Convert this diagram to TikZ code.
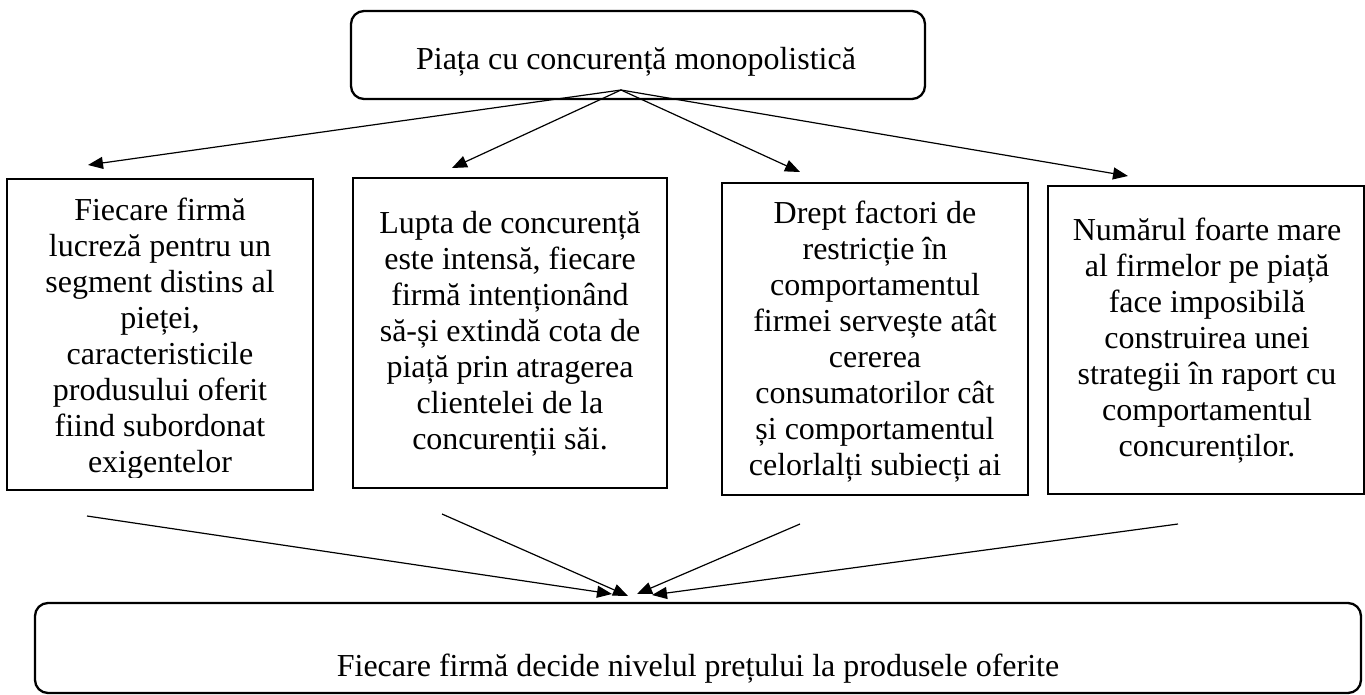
\documentclass[tikz,border=0pt]{standalone}
\usepackage{fontspec}
\setmainfont{Liberation Serif}
\usetikzlibrary{arrows.meta}
\begin{document}
\begin{tikzpicture}[x=1pt,y=-1pt,
  frame/.style={draw, line width=2.3pt, inner sep=0pt, outer sep=0pt, anchor=north west},
  rframe/.style={frame, rounded corners=13pt},
  txt/.style={font=\fontsize{32}{36}\selectfont, align=center, inner sep=0pt},
  conn/.style={line width=1.2pt, -{Triangle[length=15pt,width=12pt]}}]
\useasboundingbox (0,0) rectangle (1365,695);
% top box
\node[rframe, minimum width=574pt, minimum height=88pt] (top) at (351,11) {};
\node[txt, anchor=base] (toptxt) at (636,70) {Piața cu concurență monopolistică};
% four boxes
\node[frame, minimum width=306pt, minimum height=311pt] (b1) at (7,179) {};
\node[frame, minimum width=314pt, minimum height=310pt] (b2) at (353,178) {};
\node[frame, minimum width=306pt, minimum height=312pt] (b3) at (722,183) {};
\node[frame, minimum width=316pt, minimum height=308pt] (b4) at (1048,186) {};
\begin{scope}
\clip (7,179) rectangle (313,477);
\node[txt] (b1t) at (160,338.5) {Fiecare firmă\\lucreză pentru un\\segment distins al\\pieței,\\caracteristicile\\produsului oferit\\fiind subordonat\\exigentelor};
\end{scope}
\node[txt] (b2t) at (510,333.5) {Lupta de concurență\\este intensă, fiecare\\firmă intenționând\\să-și extindă cota de\\piață prin atragerea\\clientelei de la\\concurenții săi.};
\node[txt] (b3t) at (875,341.5) {Drept factori de\\restricție în\\comportamentul\\firmei servește atât\\cererea\\consumatorilor cât\\și comportamentul\\celorlalți subiecți ai};
\node[txt] (b4t) at (1207,340.5) {Numărul foarte mare\\al firmelor pe piață\\face imposibilă\\construirea unei\\strategii în raport cu\\comportamentul\\concurenților.};
% bottom box
\node[rframe, minimum width=1326pt, minimum height=90pt] (bot) at (35,603) {};
\node[txt, anchor=base] (bottxt) at (698,676) {Fiecare firmă decide nivelul prețului la produsele oferite};
% top connectors
\coordinate (src) at (621,90);
\coordinate (t1) at (88,165);
\coordinate (t2) at (452,168);
\coordinate (t3) at (800,172);
\coordinate (t4) at (1128,176);
\draw[conn] (src) -- (t1);
\draw[conn] (src) -- (t2);
\draw[conn] (src) -- (t3);
\draw[conn] (src) -- (t4);
% bottom connectors
\coordinate (s1) at (87,516);
\coordinate (s2) at (442,514);
\coordinate (s3) at (800,524);
\coordinate (s4) at (1178,524);
\coordinate (e1) at (612,594);
\coordinate (e2) at (628,596);
\coordinate (e3) at (637,594);
\coordinate (e4) at (652,595);
\draw[conn] (s1) -- (e1);
\draw[conn] (s2) -- (e2);
\draw[conn] (s3) -- (e3);
\draw[conn] (s4) -- (e4);
\end{tikzpicture}
\end{document}
